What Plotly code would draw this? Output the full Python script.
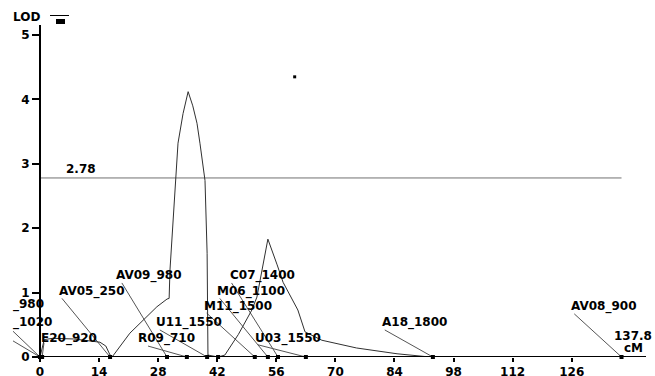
import plotly.graph_objects as go

# ---- data ----
curve_cm = [0, 1.0, 3, 8, 14.2, 15.6, 16.6, 17.2, 21.3, 25, 27.7, 30.1, 30.6, 30.8, 31.5,
            32.0, 32.7, 33.9, 35.1, 36.2, 37.2, 37.9, 39.1, 39.6, 39.8, 42.2, 43.8, 47,
            50.2, 51.4, 54.0, 56.2, 57.6, 61.1, 62.8, 66.8, 75, 84.6, 92.4, 137.8]
curve_lod = [0, 0.27, 0.29, 0.28, 0.23, 0.17, 0.03, 0.01, 0.37, 0.6, 0.78, 0.9, 0.91, 1.35, 2.1,
             2.74, 3.32, 3.78, 4.12, 3.9, 3.63, 3.32, 2.74, 1.61, 0.03, 0.0, 0.03, 0.35,
             0.73, 0.93, 1.83, 1.43, 1.16, 0.73, 0.39, 0.26, 0.14, 0.05, 0.0, 0.0]

marker_cm = [0, 0, 0.5, 16.6, 30.1, 34.8, 39.6, 42.2, 50.9, 54.0, 56.4, 63.0, 93.1, 137.8]

marker_names = ["_980", "_1020", "E20_920", "AV05_250", "AV09_980", "R09_710", "U11_1550",
                "M11_1500", "M06_1100", "C07_1400", "U03_1550", "A18_1800", "AV08_900"]
name_marker_cm = [0, 0, 0.5, 16.6, 30.1, 34.8, 39.6, 50.9, 54.0, 56.4, 63.0, 93.1, 137.8]

threshold = 2.78
chrom_length = 137.8
x_ticks = [0, 14, 28, 42, 56, 70, 84, 98, 112, 126]
y_ticks = [0, 1, 2, 3, 4, 5]
extra_point = (60.35, 4.35)

# ---- layout helpers (label placement, in axis units) ----
label_left = [-6.6, -6.6, 0.0, 4.26, 17.75, 22.96, 27.2, 38.58, 41.66, 44.7, 50.65, 80.7, 125.7]
label_y = [0.81, 0.54, 0.295, 1.02, 1.27, 0.295, 0.53, 0.79, 1.02, 1.27, 0.295, 0.53, 0.78]
leader_start_x = [-6.4, -6.4, 0.95, 5.2, 19.4, 25.6, 28.4, 39.5, 42.6, 45.4, 51.6, 81.7, 126.6]
leader_start_y = [0.40, 0.25, 0.22, 0.91, 1.15, 0.17, 0.42, 0.68, 0.91, 1.15, 0.19, 0.42, 0.67]

X0, X1 = -9.48, 143.6
Y0, Y1 = 0, 5.155

font = dict(family="DejaVu Sans", size=12, color="black", weight="bold")

fig = go.Figure()

# leader lines
lx, ly = [], []
for sx, sy, mx in zip(leader_start_x, leader_start_y, name_marker_cm):
    lx += [sx, mx, None]
    ly += [sy, 0, None]
fig.add_trace(go.Scatter(x=lx, y=ly, mode="lines", line=dict(color="#555555", width=1),
                         hoverinfo="skip", showlegend=False))

# threshold
fig.add_trace(go.Scatter(x=[0, chrom_length], y=[threshold, threshold], mode="lines",
                         line=dict(color="#707070", width=1), showlegend=False))

# LOD curve
fig.add_trace(go.Scatter(x=curve_cm, y=curve_lod, mode="lines",
                         line=dict(color="#303030", width=1), showlegend=False))

# x axis line
fig.add_trace(go.Scatter(x=[0, X1], y=[0, 0], mode="lines",
                         line=dict(color="black", width=2), showlegend=False))

# markers
fig.add_trace(go.Scatter(x=marker_cm, y=[0] * len(marker_cm), mode="markers",
                         marker=dict(symbol="square", size=4, color="black"),
                         cliponaxis=False, showlegend=False))

fig.add_trace(go.Scatter(x=[extra_point[0]], y=[extra_point[1]], mode="markers",
                         marker=dict(symbol="square", size=3, color="black"),
                         showlegend=False))

annotations = []
for name, lxp, lyp in zip(marker_names, label_left, label_y):
    annotations.append(dict(x=lxp, y=lyp, text=name, showarrow=False, xanchor="left",
                            yanchor="middle", font=font, xref="x", yref="y", borderpad=0))
annotations.append(dict(x=5.92, y=2.92, text=f"{threshold}", showarrow=False, xanchor="left",
                        yanchor="middle", font=font, borderpad=0))
annotations.append(dict(x=140.6, y=0.33, text=f"{chrom_length}", showarrow=False,
                        xanchor="center", yanchor="middle", font=font, borderpad=0))
annotations.append(dict(x=140.6, y=0.14, text="cM", showarrow=False,
                        xanchor="center", yanchor="middle", font=font, borderpad=0))
annotations.append(dict(x=12 / 646, y=(357 - 17) / 332, xref="paper", yref="paper", text="LOD",
                        showarrow=False, xanchor="left", yanchor="middle", font=font,
                        borderpad=0))

shapes = [
    dict(type="line", xref="paper", yref="paper", x0=50 / 646, x1=69 / 646,
         y0=(357 - 15.5) / 332, y1=(357 - 15.5) / 332, line=dict(color="black", width=1)),
    dict(type="rect", xref="paper", yref="paper", x0=56 / 646, x1=65 / 646,
         y0=(357 - 24) / 332, y1=(357 - 19) / 332, fillcolor="black",
         line=dict(color="black", width=0)),
]

fig.update_layout(
    width=655, height=376,
    margin=dict(l=0, r=9, t=25, b=19, autoexpand=False),
    paper_bgcolor="white", plot_bgcolor="white",
    annotations=annotations, shapes=shapes,
    xaxis=dict(range=[X0, X1], tickvals=x_ticks, ticks="outside", ticklen=4, tickwidth=2,
               tickcolor="black", showgrid=False, zeroline=False, showline=False,
               tickfont=font, fixedrange=True),
    yaxis=dict(range=[Y0, Y1], tickvals=y_ticks, ticks="outside", ticklen=7, tickwidth=2,
               tickcolor="black", showgrid=False, zeroline=False, showline=True,
               linecolor="black", linewidth=2, anchor="free", position=40 / 646,
               tickfont=font, fixedrange=True),
)

fig.write_html("out.html", config={"displayModeBar": False},
               post_script="document.body.style.margin='0px';document.body.style.overflow='hidden';")
